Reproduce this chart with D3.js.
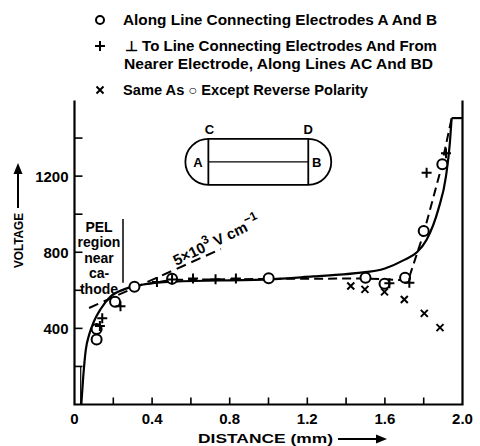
<!DOCTYPE html>
<html><head><meta charset="utf-8">
<script src="https://cdn.jsdelivr.net/npm/d3@7"></script>
<style>
html,body{margin:0;padding:0;background:#fff;}
svg{display:block;}
text{font-family:"Liberation Sans",Arial,sans-serif;font-weight:bold;fill:#000;}
</style></head>
<body>
<script>
// ---- data ----
const circles = [[0.114,397],[0.114,342],[0.209,540],[0.309,619],[0.503,661],[1.001,663],[1.50,666],[1.598,634],[1.704,666],[1.80,912],[1.896,1262]];
const pluses = [[0.131,413],[0.143,453],[0.237,516],[0.425,644],[0.503,657],[0.611,662],[0.727,658],[0.832,662],[1.623,637],[1.726,640],[1.815,1218],[1.915,1320]];
const crosses = [[1.424,623],[1.497,605],[1.598,592],[1.70,552],[1.803,479],[1.884,404]];
const solidCurve = [[0.035,0],[0.045,146],[0.058,286],[0.075,365],[0.10,436],[0.135,502],[0.187,568],[0.255,605],[0.34,628],[0.51,646],[1.0,657],[1.23,673],[1.45,690],[1.6,715],[1.7,760],[1.765,800],[1.815,866],[1.875,1024],[1.915,1200],[1.935,1376],[1.944,1505]];
const solidCap = [[1.944,1505],[2.0,1505]];
const dashedCurve = [[0.30,620],[0.5,655],[1.0,660],[1.5,662],[1.72,652],[1.80,900],[1.885,1222],[1.944,1505]];
const fieldLine = [[0.075,507],[0.755,817]];
const pelBar = [[0.25,640],[0.25,975]];
const lowBar = [[0.032,0],[0.032,200]];
const xTicks = [0,0.2,0.4,0.6,0.8,1.0,1.2,1.4,1.6,1.8,2.0];
const xLabels = ["0","0.4","0.8","1.2","1.6","2.0"];
const yTicks = [200,400,600,800,1000,1200,1400];
const yLabels = ["400","800","1200"];
const legendLines = [
  {sym:"circle", text:"Along Line Connecting Electrodes A And B", y:20, x0:123, w:314},
  {sym:"plus", text:"\u22A5 To Line Connecting Electrodes And From", y:46, x0:125, w:312},
  {sym:null, text:"Nearer Electrode, Along Lines AC And BD", y:64, x0:124, w:309},
  {sym:"cross", text:"Same As \u25CB Except Reverse Polarity", y:90, x0:123, w:245}
];
const pelText = ["PEL","region","near","ca-","thode"];

// ---- setup ----
const W=480,H=446;
const svg=d3.select("body").append("svg").attr("width",W).attr("height",H);
svg.append("rect").attr("width",W).attr("height",H).attr("fill","#fff");
const x=d3.scaleLinear().domain([0,2]).range([74.5,462.5]);
const y=d3.scaleLinear().domain([0,1600]).range([404.5,100]);

// axes lines
const ax=svg.append("g").attr("stroke","#000").attr("fill","none");
ax.append("path").attr("d",`M${x(0)},${y(1598)}V${y(0)}H${x(2)}V${y(1598)}`).attr("stroke-width",2.2);
// ticks (inward)
xTicks.slice(1,-1).forEach(t=>ax.append("line").attr("x1",x(t)).attr("x2",x(t)).attr("y1",y(0)).attr("y2",y(0)-7).attr("stroke-width",1.6));
yTicks.forEach(t=>ax.append("line").attr("x1",x(0)).attr("x2",x(0)+8).attr("y1",y(t)).attr("y2",y(t)).attr("stroke-width",1.6));
// x labels
xLabels.forEach(l=>svg.append("text").attr("x",x(+l)).attr("y",y(0)+19).attr("text-anchor","middle").attr("font-size",15).text(l));
yLabels.forEach(l=>svg.append("text").attr("x",x(0)-6).attr("y",y(+l)+5.5).attr("text-anchor","end").attr("font-size",15).text(l));

// axis titles
svg.append("text").attr("x",198).attr("y",443).attr("font-size",13).attr("textLength",135).attr("lengthAdjust","spacingAndGlyphs").text("DISTANCE  (mm)");
svg.append("line").attr("x1",338).attr("x2",378).attr("y1",439).attr("y2",439).attr("stroke","#000").attr("stroke-width",2);
svg.append("path").attr("d","M387,439 L376,434.5 L376,443.5Z").attr("fill","#000");
svg.append("text").attr("transform","translate(23,268) rotate(-90)").attr("font-size",13.5).attr("textLength",55).attr("lengthAdjust","spacingAndGlyphs").text("VOLTAGE");
svg.append("line").attr("x1",18).attr("x2",18).attr("y1",208).attr("y2",172).attr("stroke","#000").attr("stroke-width",2);
svg.append("path").attr("d","M18,163 L13.5,174 L22.5,174Z").attr("fill","#000");

// legend
legendLines.forEach(d=>{
  svg.append("text").attr("x",d.x0).attr("y",d.y+5).attr("font-size",14).attr("textLength",d.w).attr("lengthAdjust","spacingAndGlyphs").text(d.text);
  const g=svg.append("g").attr("transform",`translate(100,${d.y})`).attr("stroke","#000").attr("fill","none").attr("stroke-width",2);
  if(d.sym==="circle") g.append("circle").attr("r",4);
  if(d.sym==="plus") g.append("path").attr("d","M-5,0H5M0,-5V5");
  if(d.sym==="cross") g.append("path").attr("d","M-3.5,-3.5L3.5,3.5M3.5,-3.5L-3.5,3.5");
});

// lines
const line=d3.line().x(d=>x(d[0])).y(d=>y(d[1]));
svg.append("path").attr("d",line.curve(d3.curveMonotoneX)(solidCurve)).attr("fill","none").attr("stroke","#000").attr("stroke-width",2.2);
svg.append("path").attr("d",d3.line().x(d=>x(d[0])).y(d=>y(d[1]))(solidCap)).attr("fill","none").attr("stroke","#000").attr("stroke-width",2.2);
svg.append("path").attr("d",d3.line().x(d=>x(d[0])).y(d=>y(d[1]))(dashedCurve)).attr("fill","none").attr("stroke","#000").attr("stroke-width",2).attr("stroke-dasharray","9,5");
svg.append("path").attr("d",d3.line().x(d=>x(d[0])).y(d=>y(d[1]))(fieldLine)).attr("fill","none").attr("stroke","#000").attr("stroke-width",2).attr("stroke-dasharray","10,6");
svg.append("path").attr("d",d3.line().x(d=>x(d[0])).y(d=>y(d[1]))(pelBar)).attr("fill","none").attr("stroke","#000").attr("stroke-width",1.5);
svg.append("path").attr("d",d3.line().x(d=>x(d[0])).y(d=>y(d[1]))(lowBar)).attr("fill","none").attr("stroke","#000").attr("stroke-width",1.2);

// markers
svg.append("g").selectAll("circle").data(circles).join("circle")
  .attr("cx",d=>x(d[0])).attr("cy",d=>y(d[1])).attr("r",5).attr("fill","#fff").attr("stroke","#000").attr("stroke-width",2);
svg.append("g").selectAll("path").data(pluses).join("path")
  .attr("d",d=>`M${x(d[0])-5},${y(d[1])}h10M${x(d[0])},${y(d[1])-5}v10`).attr("stroke","#000").attr("stroke-width",2).attr("fill","none");
svg.append("g").selectAll("path").data(crosses).join("path")
  .attr("d",d=>{const cx=x(d[0]),cy=y(d[1]);return `M${cx-3.5},${cy-3.5}L${cx+3.5},${cy+3.5}M${cx+3.5},${cy-3.5}L${cx-3.5},${cy+3.5}`;})
  .attr("stroke","#000").attr("stroke-width",2).attr("fill","none");

// PEL text
pelText.forEach((t,i)=>svg.append("text").attr("x",99).attr("y",232+i*15.4).attr("text-anchor","middle").attr("font-size",14).text(t));

// field annotation
const fa=svg.append("text").attr("transform",`translate(${x(0.525)},${y(728)}) rotate(-26)`).attr("font-size",15);
fa.append("tspan").text("5\u00D710");
fa.append("tspan").attr("dy",-7).attr("font-size",12).text("3");
fa.append("tspan").attr("dy",7).text(" V cm");
fa.append("tspan").attr("dy",-7).attr("font-size",12).text("\u22121");

// inset diagram
const ix0=x(0.69), ix1=x(1.205), iy=y(1275), r=23;
const ig=svg.append("g").attr("stroke","#000").attr("fill","none").attr("stroke-width",1.8);
ig.append("rect").attr("x",ix0-r).attr("y",iy-r).attr("width",ix1-ix0+2*r).attr("height",2*r).attr("rx",r).attr("ry",r);
ig.append("line").attr("x1",ix0).attr("x2",ix0).attr("y1",iy-r).attr("y2",iy+r);
ig.append("line").attr("x1",ix1).attr("x2",ix1).attr("y1",iy-r).attr("y2",iy+r);
ig.append("line").attr("x1",ix0).attr("x2",ix1).attr("y1",iy).attr("y2",iy).attr("stroke-width",1.4);
[["C",ix0+1,iy-28],["D",ix1,iy-28],["A",ix0-10.5,iy+5],["B",ix1+8.5,iy+5]].forEach(d=>
  svg.append("text").attr("x",d[1]).attr("y",d[2]).attr("text-anchor","middle").attr("font-size",13).text(d[0]));
</script>
</body></html>
